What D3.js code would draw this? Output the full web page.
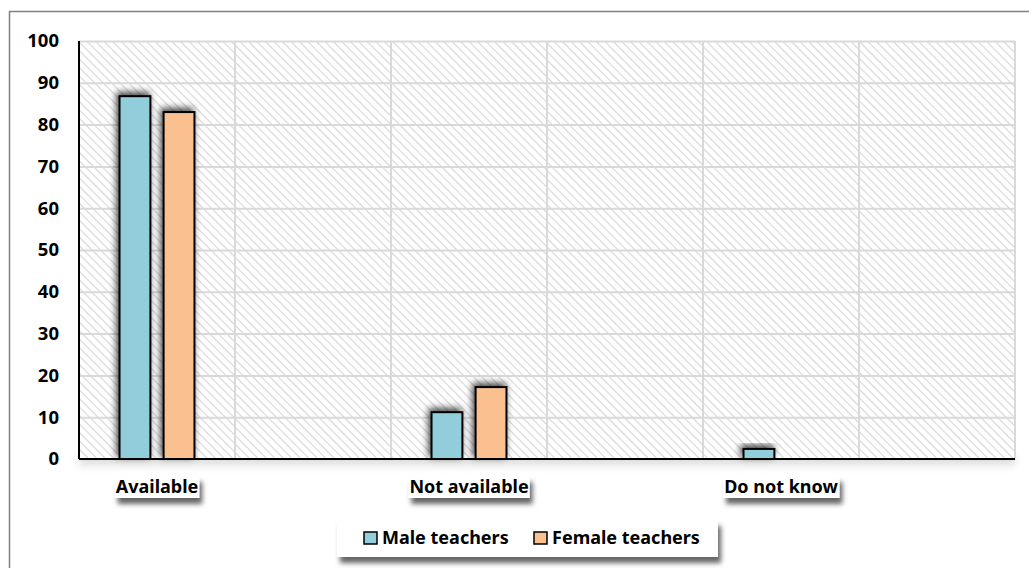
<!DOCTYPE html>
<html>
<head>
<meta charset="utf-8">
<script src="https://cdn.jsdelivr.net/npm/d3@7"></script>
<style>
  body { margin: 0; background: #fff; }
  text { font-family: "Noto Sans", sans-serif; font-weight: bold; fill: #000; }
</style>
</head>
<body>
<div id="chart"></div>
<script>
var svgWidth = 1029;
var svgHeight = 568;

// data
var categories = ["Available", "Not available", "Do not know"];
var seriesNames = ["Male teachers", "Female teachers"];
var maleValues = [86.8, 11.2, 2.4];
var femaleValues = [83.0, 17.2, 0];
var yTicks = [0, 10, 20, 30, 40, 50, 60, 70, 80, 90, 100];

var colors = ["#92cddc", "#fac090"];

var margin = { top: 41, right: 14, bottom: 109, left: 79 };
var width = svgWidth - margin.left - margin.right;
var height = svgHeight - margin.top - margin.bottom;

var svg = d3.select("#chart")
  .append("svg")
  .attr("width", svgWidth)
  .attr("height", svgHeight);

var defs = svg.append("defs");

// diagonal hatch for the plot area
var pat = defs.append("pattern")
  .attr("id", "hatch")
  .attr("patternUnits", "userSpaceOnUse")
  .attr("width", 6)
  .attr("height", 6)
  .attr("patternTransform", "rotate(45)");
pat.append("rect").attr("width", 6).attr("height", 6).attr("fill", "#fff");
pat.append("line")
  .attr("x1", 0).attr("y1", 0).attr("x2", 6).attr("y2", 0)
  .attr("stroke", "#d6d6d6")
  .attr("stroke-width", 2.2);

var barShadow = defs.append("filter")
  .attr("id", "barShadow")
  .attr("x", "-50%").attr("y", "-50%").attr("width", "200%").attr("height", "200%");
barShadow.append("feDropShadow")
  .attr("dx", -2).attr("dy", -3).attr("stdDeviation", 3.5)
  .attr("flood-color", "#000").attr("flood-opacity", 0.75);

var boxShadow = defs.append("filter")
  .attr("id", "boxShadow")
  .attr("x", "-20%").attr("y", "-50%").attr("width", "140%").attr("height", "250%");
boxShadow.append("feDropShadow")
  .attr("dx", 3).attr("dy", 6).attr("stdDeviation", 2.5)
  .attr("flood-color", "#000").attr("flood-opacity", 0.6);

var axisShadow = defs.append("filter")
  .attr("id", "axisShadow")
  .attr("x", "-10%").attr("y", "-100%").attr("width", "120%").attr("height", "1000%");
axisShadow.append("feGaussianBlur").attr("stdDeviation", 4);

// outer frame, cut by the right and bottom edges
svg.append("rect")
  .attr("x", 9.5).attr("y", 11.5)
  .attr("width", svgWidth).attr("height", svgHeight)
  .attr("fill", "none")
  .attr("stroke", "#808080")
  .attr("stroke-width", 1.5);

var chartGroup = svg.append("g")
  .attr("transform", `translate(${margin.left}, ${margin.top})`);

// scales: six slots, categories sit on every second one
var slots = d3.range(categories.length * 2);
var xSlot = d3.scaleBand()
  .domain(slots)
  .range([0, width]);

var xSeries = d3.scaleBand()
  .domain(seriesNames)
  .range([0, xSlot.bandwidth()])
  .paddingInner(0.3)
  .paddingOuter(0.92);

var yLinearScale = d3.scaleLinear()
  .domain([0, 100])
  .range([height, 0]);

// soft shadow under the plot bottom
chartGroup.append("rect")
  .attr("x", 0).attr("y", height - 4)
  .attr("width", width).attr("height", 10)
  .attr("fill", "#999")
  .attr("opacity", 0.35)
  .attr("filter", "url(#axisShadow)");

chartGroup.append("rect")
  .attr("width", width)
  .attr("height", height)
  .attr("fill", "url(#hatch)");

// gridlines
chartGroup.append("g")
  .attr("transform", `translate(0, ${height})`)
  .call(d3.axisBottom(xSlot).tickSize(-height).tickFormat(""))
  .call(g => g.select(".domain").remove())
  .call(g => g.selectAll(".tick").attr("transform", d => `translate(${xSlot(d)},0)`))
  .call(g => g.selectAll(".tick line").attr("stroke", "#d9d9d9").attr("stroke-width", 2));

chartGroup.append("line")
  .attr("x1", width).attr("x2", width)
  .attr("y1", 0).attr("y2", height)
  .attr("stroke", "#d9d9d9").attr("stroke-width", 2);

chartGroup.append("g")
  .call(d3.axisLeft(yLinearScale).tickValues(yTicks).tickSize(-width).tickFormat(""))
  .call(g => g.select(".domain").remove())
  .call(g => g.selectAll(".tick line").attr("stroke", "#d9d9d9").attr("stroke-width", 2));

// bars
var rows = categories.map(function(c, i) {
  return { category: c, slot: i * 2, values: [maleValues[i], femaleValues[i]] };
});

var groups = chartGroup.selectAll(".cat")
  .data(rows)
  .enter()
  .append("g")
  .attr("transform", d => `translate(${xSlot(d.slot)}, 0)`);

groups.selectAll("rect")
  .data(d => d.values.map((v, j) => ({ name: seriesNames[j], value: v, color: colors[j] })))
  .enter()
  .filter(d => d.value > 0)
  .append("rect")
  .attr("x", d => xSeries(d.name))
  .attr("y", d => yLinearScale(d.value))
  .attr("width", xSeries.bandwidth())
  .attr("height", d => height - yLinearScale(d.value))
  .attr("fill", d => d.color)
  .attr("stroke", "#000")
  .attr("stroke-width", 2)
  .attr("filter", "url(#barShadow)");

// axes lines
chartGroup.append("line")
  .attr("x1", 0).attr("x2", width)
  .attr("y1", height).attr("y2", height)
  .attr("stroke", "#000").attr("stroke-width", 2);

chartGroup.append("line")
  .attr("x1", 0).attr("x2", 0)
  .attr("y1", 0).attr("y2", height)
  .attr("stroke", "#000").attr("stroke-width", 2);

// y tick labels
chartGroup.selectAll(".ylab")
  .data(yTicks)
  .enter()
  .append("text")
  .attr("x", -20)
  .attr("y", d => yLinearScale(d))
  .attr("dy", "0.35em")
  .attr("text-anchor", "end")
  .attr("font-size", "18.5px")
  .text(d => d);

// category labels with white boxes and shadow
var catLabels = chartGroup.selectAll(".catlab")
  .data(rows)
  .enter()
  .append("g")
  .attr("transform", d => `translate(${xSlot(d.slot) + xSlot.bandwidth() / 2}, ${height + 28})`);

catLabels.append("text")
  .attr("text-anchor", "middle")
  .attr("dy", "0.35em")
  .attr("font-size", "18px")
  .text(d => d.category)
  .each(function() {
    var bb = this.getBBox();
    d3.select(this.parentNode).insert("rect", "text")
      .attr("x", bb.x - 1)
      .attr("y", -11)
      .attr("width", bb.width + 2)
      .attr("height", 22)
      .attr("fill", "#fff")
      .attr("filter", "url(#boxShadow)");
  });

// legend
var legend = svg.append("g")
  .attr("transform", "translate(337, 520)");

legend.append("rect")
  .attr("width", 381)
  .attr("height", 37)
  .attr("fill", "#fff")
  .attr("filter", "url(#boxShadow)");

var legendX = [27, 197];
var items = legend.selectAll(".item")
  .data(seriesNames)
  .enter()
  .append("g")
  .attr("transform", (d, i) => `translate(${legendX[i]}, 18)`);

items.append("rect")
  .attr("x", 0).attr("y", -6)
  .attr("width", 13).attr("height", 12)
  .attr("fill", (d, i) => colors[i])
  .attr("stroke", "#000")
  .attr("stroke-width", 1.5);

items.append("text")
  .attr("x", 18)
  .attr("dy", "0.35em")
  .attr("font-size", "18px")
  .text(d => d);
</script>
</body>
</html>
